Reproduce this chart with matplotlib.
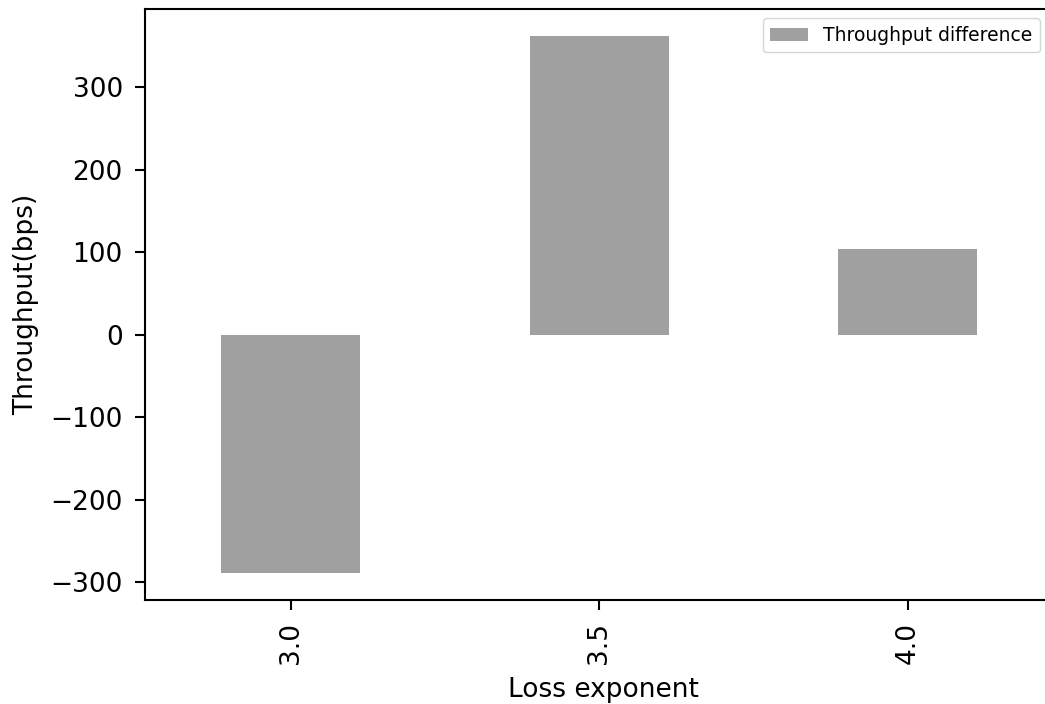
import matplotlib
matplotlib.use('Agg')
import matplotlib.pyplot as plt

# loss exponent vs throughput gain
exponents = ['3.0', '3.5', '4.0']
diff = [-289, 362, 104]

plt.rcParams['font.size'] = 19
fig = plt.figure(figsize=(10.45, 7.04), dpi=100)
# axes runs past the right edge of the canvas
ax = fig.add_axes([145 / 1045, 104 / 704, 917 / 1045, 591 / 704])

x = range(len(exponents))
ax.bar(x, diff, width=0.45, color='#a0a0a0', label='Throughput difference')
ax.set_xlim(-0.473, len(exponents) - 0.5)
ax.set_xticks(list(x))
ax.set_xticklabels(exponents, rotation=90)
ax.set_yticks([-300, -200, -100, 0, 100, 200, 300])
ax.set_yticklabels(['\u2212300', '\u2212200', '\u2212100', '0', '100', '200', '300'])

for s in ax.spines.values():
    s.set_linewidth(1.5)
ax.tick_params(length=7, width=1.5, pad=9)

ax.set_xlabel('Loss exponent', labelpad=9)
ax.set_ylabel('Throughput(bps)', labelpad=8)
ax.legend(loc='upper right', fontsize=13.5, borderaxespad=0.5, bbox_to_anchor=(1.0 - 13 / 917, 1.0))

plt.savefig('out.png', dpi=100)
